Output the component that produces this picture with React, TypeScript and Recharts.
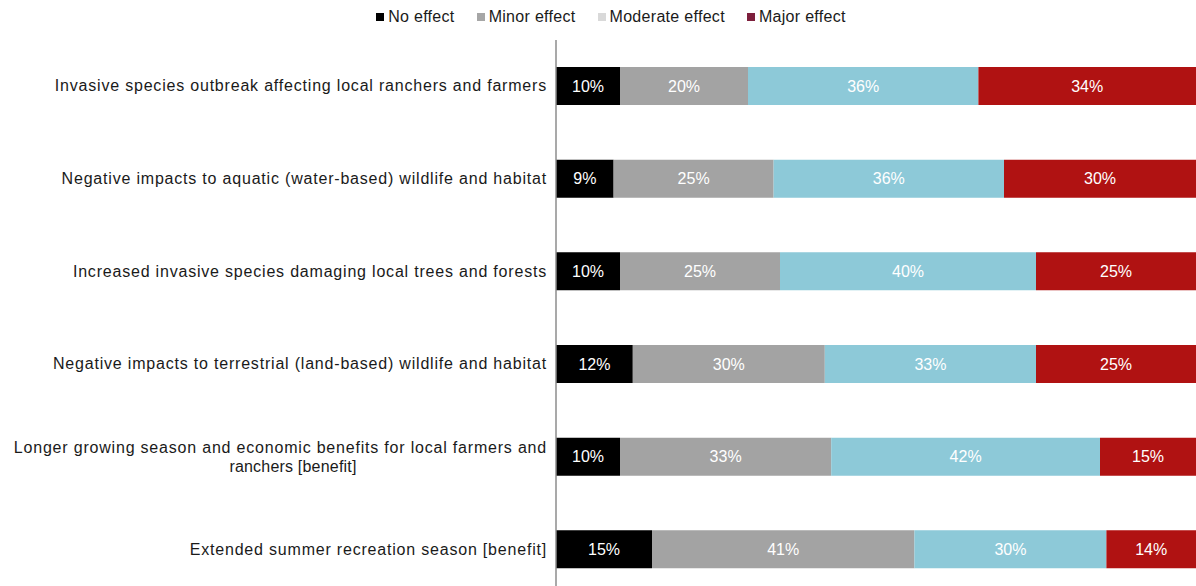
import React from 'react';
import { BarChart, Bar, XAxis, YAxis, LabelList, Legend } from 'recharts';

const categories = [
    'Invasive species outbreak affecting local ranchers and farmers',
    'Negative impacts to aquatic (water-based) wildlife and habitat',
    'Increased invasive species damaging local trees and forests',
    'Negative impacts to terrestrial (land-based) wildlife and habitat',
    'Longer growing season and economic benefits for local farmers and\nranchers [benefit]',
    'Extended summer recreation season [benefit]',
];

const noEffect = [10, 9, 10, 12, 10, 15];
const minorEffect = [20, 25, 25, 30, 33, 41];
const moderateEffect = [36, 36, 40, 33, 42, 30];
const majorEffect = [34, 30, 25, 25, 15, 14];

const series = [
    { key: 'none', name: 'No effect', values: noEffect, fill: '#000000', swatch: '#000000' },
    { key: 'minor', name: 'Minor effect', values: minorEffect, fill: '#a3a3a3', swatch: '#a6a6a6' },
    { key: 'moderate', name: 'Moderate effect', values: moderateEffect, fill: '#8dc9d8', swatch: '#d9d9d9' },
    { key: 'major', name: 'Major effect', values: majorEffect, fill: '#b01212', swatch: '#7d1f3c' },
];

const data = categories.map((name, i) => {
    const row: Record<string, string | number> = { name };
    series.forEach((s) => {
        row[s.key] = s.values[i];
    });
    return row;
});

const FONT = '"Liberation Sans", Arial, sans-serif';

const CategoryTick = (props: any) => {
    const { x, y, payload } = props;
    const lines: string[] = String(payload.value).split('\n');
    const textProps = { fontSize: 16, letterSpacing: 0.8, fill: '#1a1a1a', fontFamily: FONT };
    if (lines.length === 1) {
        return (
            <text x={x} y={y} dy={5} textAnchor="end" {...textProps}>
                {lines[0]}
            </text>
        );
    }
    // two-line label: first line right-aligned, second centred under it
    return (
        <g>
            <text x={x} y={y - 9} dy={5} textAnchor="end" {...textProps}>
                {lines[0]}
            </text>
            <text x={x - 254} y={y + 10} dy={5} textAnchor="middle" {...textProps} letterSpacing={0.2}>
                {lines[1]}
            </text>
        </g>
    );
};

const TopLegend = () => (
    <div
        style={{
            display: 'flex',
            justifyContent: 'center',
            gap: 22,
            fontFamily: FONT,
            fontSize: 16,
            letterSpacing: 0.3,
            color: '#1a1a1a',
            paddingLeft: 26,
        }}
    >
        {series.map((s) => (
            <span key={s.key} style={{ display: 'flex', alignItems: 'center' }}>
                <span style={{ width: 8, height: 8, background: s.swatch, marginRight: 4 }} />
                {s.name}
            </span>
        ))}
    </div>
);

export default function App() {
    return (
        <div style={{ position: 'absolute', top: 0, left: 0, background: '#fff' }}>
            <BarChart
                width={1196}
                height={600}
                data={data}
                layout="vertical"
                barCategoryGap={0}
                margin={{ top: 20, right: 0, bottom: 4, left: 0 }}
            >
                <Legend verticalAlign="top" height={20} content={<TopLegend />} wrapperStyle={{ top: 8 }} />
                <XAxis type="number" domain={[0, 100]} hide />
                <YAxis
                    type="category"
                    dataKey="name"
                    width={556}
                    axisLine={{ stroke: '#8c8c8c', strokeWidth: 1.5 }}
                    tickLine={false}
                    tickMargin={3}
                    tick={<CategoryTick />}
                    interval={0}
                />
                {series.map((s) => (
                    <Bar
                        key={s.key}
                        dataKey={s.key}
                        name={s.name}
                        stackId="a"
                        fill={s.fill}
                        barSize={38}
                        isAnimationActive={false}
                    >
                        <LabelList
                            dataKey={s.key}
                            position="center"
                            fill="#ffffff"
                            fontSize={16}
                            fontFamily={FONT}
                            formatter={(v: any) => `${v}%`}
                        />
                    </Bar>
                ))}
            </BarChart>
        </div>
    );
}
